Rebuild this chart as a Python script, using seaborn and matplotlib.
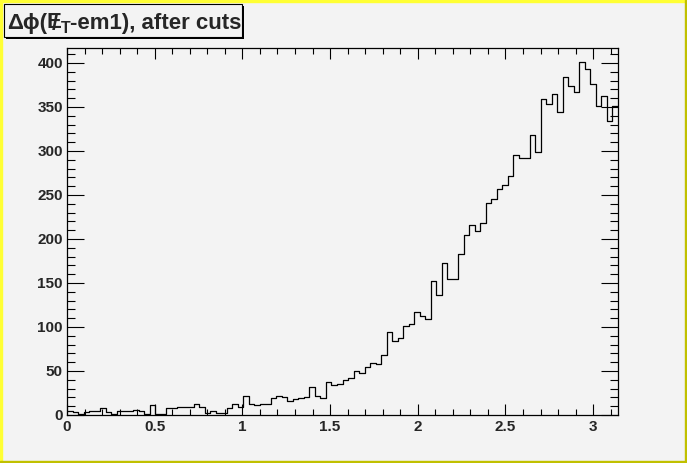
#!/usr/bin/env python3
import numpy as np
import pandas as pd
import matplotlib
matplotlib.use('Agg')
import matplotlib.pyplot as plt
import seaborn as sns
from matplotlib.patches import Rectangle
from matplotlib.ticker import MultipleLocator, FuncFormatter

# Bin contents, 100 bins from 0 to pi
counts_00_19 = [5, 3, 1, 3, 5, 5, 8, 3, 1, 5, 4, 4, 6, 4, 1, 11, 1, 1, 8, 8]
counts_20_39 = [9, 9, 9, 13, 9, 2, 5, 2, 2, 8, 12, 9, 22, 12, 11, 13, 12, 19, 22, 21]
counts_40_59 = [16, 18, 19, 20, 32, 22, 19, 37, 34, 35, 40, 42, 50, 48, 54, 59, 58, 68, 94, 84]
counts_60_79 = [88, 101, 103, 117, 113, 109, 152, 136, 173, 154, 155, 183, 205, 216, 209, 218,
                241, 245, 257, 261]
counts_80_99 = [272, 296, 292, 292, 318, 299, 359, 353, 365, 344, 384, 374, 367, 401, 393, 376,
                351, 362, 334, 351]

n_bins = 100
x_lo, x_hi = 0.0, np.pi

# Title pieces: Δϕ(E̸_T-em1), after cuts
title_head = 'Δϕ('
title_e = 'E'
title_slash = '/'
title_sub = 'T'
title_rest = '-em1), after cuts'

BG = '#f3f3f3'
W, H = 687, 463


def main():
    counts = np.array(counts_00_19 + counts_20_39 + counts_40_59 + counts_60_79 + counts_80_99)
    edges = np.linspace(x_lo, x_hi, n_bins + 1)
    hist_df = pd.DataFrame({
        'dphi': 0.5 * (edges[:-1] + edges[1:]),
        'n': counts,
    })

    sns.set_style('ticks')
    plt.rcParams['font.family'] = ['Liberation Sans', 'DejaVu Sans']

    fig = plt.figure(figsize=(W / 100, H / 100), dpi=100, facecolor=BG)
    ax = fig.add_axes([67 / W, 1 - 415 / H, (618 - 67) / W, (415 - 48) / H])
    ax.set_facecolor(BG)

    # Histogram drawn as a step outline, ROOT style
    sns.histplot(data=hist_df, x='dphi', weights='n', bins=n_bins, binrange=(x_lo, x_hi),
                 element='step', fill=False, color='black', linewidth=0.9, ax=ax)

    ax.set_xlim(x_lo, x_hi)
    ax.set_ylim(0, counts.max() * 1.04)
    ax.set_xlabel('')
    ax.set_ylabel('')

    ax.xaxis.set_major_locator(MultipleLocator(0.5))
    ax.xaxis.set_minor_locator(MultipleLocator(0.1))
    ax.yaxis.set_major_locator(MultipleLocator(50))
    ax.yaxis.set_minor_locator(MultipleLocator(10))
    ax.xaxis.set_major_formatter(FuncFormatter(lambda v, p: f'{v:g}'))

    for s in ax.spines.values():
        s.set_color('black')
        s.set_linewidth(0.9)

    ax.tick_params(axis='both', which='both', direction='in', top=True, right=True,
                   labeltop=False, labelright=False, color='black', width=0.8)
    ax.tick_params(axis='x', which='major', length=8, pad=3.5)
    ax.tick_params(axis='x', which='minor', length=4)
    ax.tick_params(axis='y', which='major', length=12, pad=3)
    ax.tick_params(axis='y', which='minor', length=6)
    for lab in ax.get_xticklabels() + ax.get_yticklabels():
        lab.set_fontweight('bold')
        lab.set_fontsize(11)

    # Canvas border (yellow, raised)
    fig.patches.append(Rectangle((0, 1 - 2 / H), 1, 2 / H, transform=fig.transFigure,
                                 color='#ffff33', zorder=5))
    fig.patches.append(Rectangle((0, 0), 2 / W, 1, transform=fig.transFigure,
                                 color='#ffff33', zorder=5))
    fig.patches.append(Rectangle((1 - 2.5 / W, 0), 2.5 / W, 1, transform=fig.transFigure,
                                 color='#c0c000', zorder=5))
    fig.patches.append(Rectangle((0, 0), 1, 2.5 / H, transform=fig.transFigure,
                                 color='#c0c000', zorder=5))

    # Title pave with shadow
    bx0, by0, bx1, by1 = 4, 4, 242, 37
    fig.patches.append(Rectangle((bx0 / W + 2 / W, 1 - (by1 + 2) / H), (bx1 - bx0) / W,
                                 (by1 - by0) / H, transform=fig.transFigure,
                                 facecolor='black', edgecolor='none', zorder=6))
    fig.patches.append(Rectangle((bx0 / W, 1 - by1 / H), (bx1 - bx0) / W, (by1 - by0) / H,
                                 transform=fig.transFigure, facecolor=BG,
                                 edgecolor='black', linewidth=0.8, zorder=7))

    renderer = fig.canvas.get_renderer()
    base_y = 1 - 28.5 / H
    big = dict(fontsize=16, fontweight='bold', va='baseline', ha='left', zorder=8)

    t_head = fig.text(7 / W, base_y, title_head, **big)
    e_head = t_head.get_window_extent(renderer)
    t_e = fig.text(e_head.x1 / W, base_y, title_e, **big)
    e_e = t_e.get_window_extent(renderer)
    # slash struck through the E (missing transverse energy)
    fig.text((e_e.x0 + e_e.x1) / 2 / W, base_y - 2 / H, title_slash, fontsize=16,
             fontweight='bold', va='baseline', ha='center', zorder=9)
    t_sub = fig.text((e_e.x1 - 1) / W, base_y - 5 / H, title_sub, fontsize=11.5,
                     fontweight='bold', va='baseline', ha='left', zorder=8)
    e_sub = t_sub.get_window_extent(renderer)
    fig.text(e_sub.x1 / W, base_y, title_rest, **big)

    fig.savefig('out.png', dpi=100, facecolor=BG)


if __name__ == '__main__':
    main()
